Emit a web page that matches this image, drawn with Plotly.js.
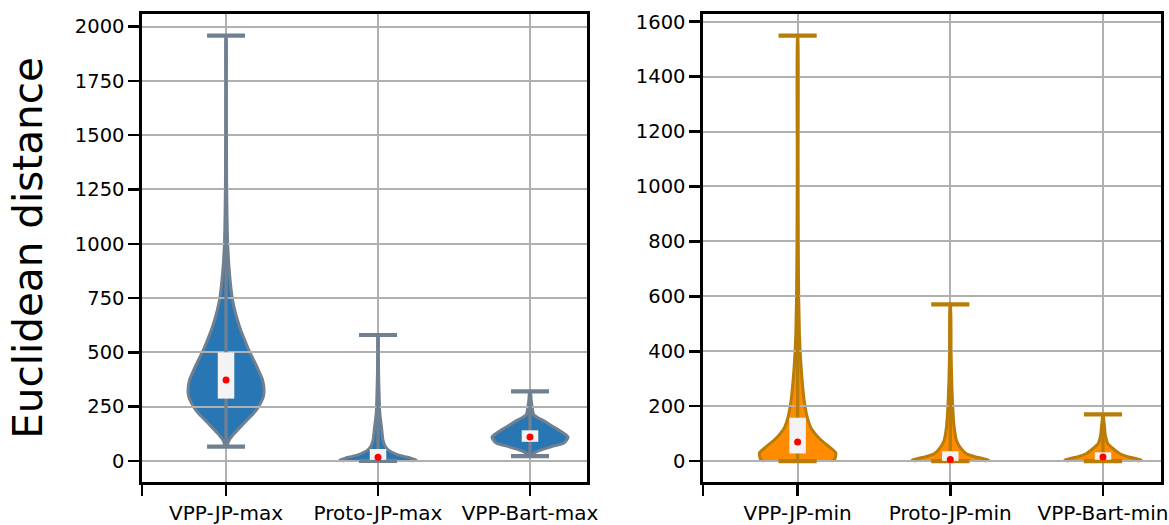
<!DOCTYPE html>
<html><head><meta charset="utf-8">
<script src="https://cdn.plot.ly/plotly-3.0.1.min.js"></script>
<style>html,body{margin:0;padding:0;background:#fff}#chart{width:1169px;height:525px}</style>
</head><body><div id="chart"></div>
<script>
// ---------------- data ----------------
const leftCategories = ['VPP-JP-max', 'Proto-JP-max', 'VPP-Bart-max'];
const rightCategories = ['VPP-JP-min', 'Proto-JP-min', 'VPP-Bart-min'];

const leftMin = [66, 0, 22];
const leftQ1 = [287, 5, 88];
const leftMedian = [373, 17, 110];
const leftQ3 = [500, 55, 141];
const leftMax = [1958, 580, 320];

const rightMin = [0, 0, 0];
const rightQ1 = [28, 1, 5];
const rightMedian = [70, 6, 15];
const rightQ3 = [158, 36, 32];
const rightMax = [1549, 571, 170];

// relative density profiles (value level -> relative half width)
const vppJpMaxLevels = [66, 80, 97, 127, 158, 189, 219, 250, 296, 327, 373, 419, 465, 511, 557, 603, 649, 695, 741, 803, 864, 925, 1018, 1141, 1300, 1500, 1700, 1958];
const vppJpMaxDensity = [0.02, 0.045, 0.086, 0.22, 0.386, 0.556, 0.726, 0.856, 0.982, 1.0, 0.961, 0.85, 0.726, 0.595, 0.49, 0.386, 0.30, 0.23, 0.172, 0.125, 0.091, 0.065, 0.039, 0.025, 0.015, 0.01, 0.006, 0.003];

const protoJpMaxLevels = [0, 5, 12, 20, 28, 40, 51, 70, 97, 158, 220, 300, 400, 500, 580];
const protoJpMaxDensity = [0.9, 1.0, 0.875, 0.7, 0.525, 0.37, 0.265, 0.18, 0.13, 0.09, 0.047, 0.03, 0.015, 0.008, 0.004];

const vppBartMaxLevels = [22, 32, 47, 66, 81, 100, 110, 120, 143, 162, 181, 200, 212, 250, 281, 320];
const vppBartMaxDensity = [0.01, 0.073, 0.23, 0.57, 0.88, 0.98, 1.0, 0.95, 0.75, 0.57, 0.40, 0.2, 0.1, 0.055, 0.03, 0.01];

const vppJpMinLevels = [0, 6, 30, 52, 76, 101, 125, 161, 222, 283, 343, 404, 465, 525, 586, 800, 1100, 1549];
const vppJpMinDensity = [0.88, 0.97, 1.0, 0.83, 0.62, 0.45, 0.335, 0.25, 0.17, 0.125, 0.091, 0.065, 0.047, 0.039, 0.029, 0.015, 0.008, 0.003];

const protoJpMinLevels = [0, 4, 16, 28, 52, 76, 125, 174, 222, 300, 400, 571];
const protoJpMinDensity = [0.9, 1.0, 0.64, 0.41, 0.25, 0.16, 0.1, 0.073, 0.055, 0.035, 0.02, 0.005];

const vppBartMinLevels = [0, 4, 16, 28, 46, 64, 83, 101, 125, 150, 170];
const vppBartMinDensity = [0.9, 1.0, 0.65, 0.43, 0.26, 0.125, 0.08, 0.055, 0.04, 0.02, 0.008];

const leftYTicks = [0, 250, 500, 750, 1000, 1250, 1500, 1750, 2000];
const rightYTicks = [0, 200, 400, 600, 800, 1000, 1200, 1400, 1600];

// ---------------- style ----------------
const FONT = 'DejaVu Sans, Liberation Sans, sans-serif';
const HALF_W = 0.25;   // max violin half-width in category units
const CAP_W = 0.125;   // half length of whisker caps
const blueFill = '#2877b4', blueEdge = '#708090';
const orangeFill = '#ff8c00', orangeEdge = '#b97d07';

function violinTrace(pos, levels, dens, fill, edge, xa, ya) {
  const xl = levels.map((v, i) => pos - HALF_W * dens[i]);
  const xr = levels.map((v, i) => pos + HALF_W * dens[i]).reverse();
  return {
    type: 'scatter', mode: 'lines', xaxis: xa, yaxis: ya,
    x: xl.concat(xr), y: levels.concat(levels.slice().reverse()),
    fill: 'toself', fillcolor: fill,
    line: {color: edge, width: 3, shape: 'spline', smoothing: 0.6},
    hoverinfo: 'skip', showlegend: false
  };
}

function whiskerTraces(mins, maxs, q1, q3, med, edge, xa, ya) {
  const bx = [], by = [], cx = [], cy = [], boxX = [], boxY = [];
  mins.forEach((mn, i) => {
    bx.push(i, i, null); by.push(mn, maxs[i], null);
    cx.push(i - CAP_W, i + CAP_W, null, i - CAP_W, i + CAP_W, null);
    cy.push(maxs[i], maxs[i], null, mn, mn, null);
    boxX.push(i, i, null); boxY.push(q1[i], q3[i], null);
  });
  return [
    {type: 'scatter', mode: 'lines', xaxis: xa, yaxis: ya, x: bx, y: by,
     line: {color: edge, width: 3.4}, hoverinfo: 'skip', showlegend: false},
    {type: 'scatter', mode: 'lines', xaxis: xa, yaxis: ya, x: cx, y: cy,
     line: {color: edge, width: 4.2}, hoverinfo: 'skip', showlegend: false},
    {type: 'scatter', mode: 'lines', xaxis: xa, yaxis: ya, x: boxX, y: boxY,
     line: {color: '#f3f3f3', width: 16.5}, hoverinfo: 'skip', showlegend: false},
    {type: 'scatter', mode: 'markers', xaxis: xa, yaxis: ya, x: med.map((m, i) => i), y: med,
     marker: {color: '#ff0000', size: 7}, hoverinfo: 'skip', showlegend: false}
  ];
}

const traces = [
  violinTrace(0, vppJpMaxLevels, vppJpMaxDensity, blueFill, blueEdge, 'x', 'y'),
  violinTrace(1, protoJpMaxLevels, protoJpMaxDensity, blueFill, blueEdge, 'x', 'y'),
  violinTrace(2, vppBartMaxLevels, vppBartMaxDensity, blueFill, blueEdge, 'x', 'y'),
  violinTrace(0, vppJpMinLevels, vppJpMinDensity, orangeFill, orangeEdge, 'x2', 'y2'),
  violinTrace(1, protoJpMinLevels, protoJpMinDensity, orangeFill, orangeEdge, 'x2', 'y2'),
  violinTrace(2, vppBartMinLevels, vppBartMinDensity, orangeFill, orangeEdge, 'x2', 'y2'),
  ...whiskerTraces(leftMin, leftMax, leftQ1, leftQ3, leftMedian, blueEdge, 'x3', 'y3'),
  ...whiskerTraces(rightMin, rightMax, rightQ1, rightQ3, rightMedian, orangeEdge, 'x4', 'y4')
];

const leftXRange = [-0.553, 2.375], rightXRange = [-0.62, 2.38];
const leftYRange = [-97, 2058], rightYRange = [-76, 1628];
const leftDomain = [0, 0.4367], rightDomain = [0.5505, 1];

const hidden = {visible: false, fixedrange: true};
const frame = {
  showline: true, mirror: true, linecolor: '#000', linewidth: 2.6,
  ticks: 'outside', ticklen: 11, tickwidth: 2.5, tickcolor: '#000',
  showgrid: true, gridcolor: '#b0b0b0', gridwidth: 2, zeroline: false,
  tickfont: {family: FONT, size: 19.5, color: '#000'}, fixedrange: true
};
const xTickFont = {family: FONT, size: 20, color: '#000'};

const layout = {
  width: 1169, height: 525,
  margin: {l: 142, r: 8, t: 14, b: 43},
  paper_bgcolor: '#ffffff', plot_bgcolor: 'rgba(0,0,0,0)',
  showlegend: false,
  xaxis: {...hidden, domain: leftDomain, range: leftXRange, anchor: 'y'},
  yaxis: {...hidden, domain: [0, 1], range: leftYRange, anchor: 'x'},
  xaxis2: {...hidden, domain: rightDomain, range: rightXRange, anchor: 'y2'},
  yaxis2: {...hidden, domain: [0, 1], range: rightYRange, anchor: 'x2'},
  xaxis3: {...frame, tickfont: xTickFont, ticklabeloverflow: 'allow', domain: leftDomain, range: leftXRange, anchor: 'y3',
    tickmode: 'array', tickvals: [leftXRange[0] + 0.001, 0, 1, 2], ticktext: [''].concat(leftCategories)},
  yaxis3: {...frame, domain: [0, 1], range: leftYRange, anchor: 'x3',
    tickmode: 'array', tickvals: leftYTicks, ticktext: leftYTicks.map(String),
    title: {text: 'Euclidean distance', font: {family: FONT, size: 40.5, color: '#000'}, standoff: 20}},
  xaxis4: {...frame, tickfont: xTickFont, ticklabeloverflow: 'allow', domain: rightDomain, range: rightXRange, anchor: 'y4',
    tickmode: 'array', tickvals: [rightXRange[0] + 0.001, 0, 1, 2], ticktext: [''].concat(rightCategories)},
  yaxis4: {...frame, domain: [0, 1], range: rightYRange, anchor: 'x4',
    tickmode: 'array', tickvals: rightYTicks, ticktext: rightYTicks.map(String)}
};

Plotly.newPlot('chart', traces, layout, {displayModeBar: false, staticPlot: true});
</script>
</body></html>
